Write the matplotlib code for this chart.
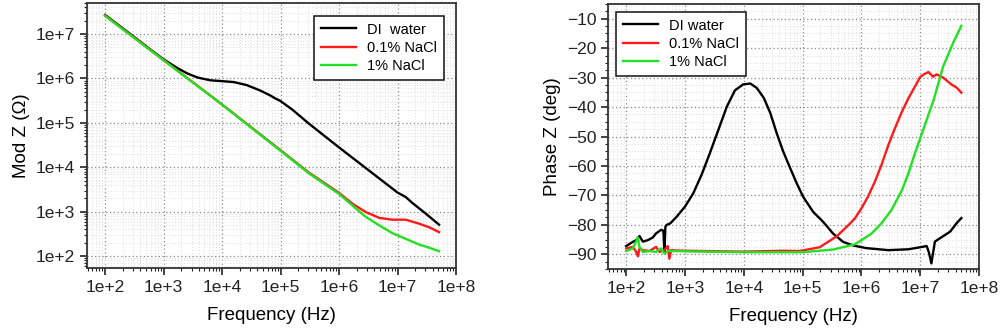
import math
import matplotlib
matplotlib.use("Agg")
import matplotlib.pyplot as plt
from matplotlib.ticker import LogLocator, FixedLocator, MultipleLocator, FuncFormatter, NullFormatter

plt.rcParams['font.family'] = ['Liberation Sans', 'DejaVu Sans']

# ---------------- data ----------------
series_names = ["DI  water", "0.1% NaCl", "1% NaCl"]
series_names_phase = ["DI water", "0.1% NaCl", "1% NaCl"]
colors = ["#000000", "#ff1a1a", "#22e022"]

# Mod Z (ohm) vs frequency (Hz)
f_di_mod = [100, 257, 610, 1000, 1738, 2570, 3802, 6310, 10000, 15850, 26300,
            44670, 66070, 81300, 100000, 158000, 309000, 1000000, 10000000,
            13800000, 18200000, 30900000, 51300000]
z_di_mod = [2.69e7, 1.05e7, 4.37e6, 2.69e6, 1.70e6, 1.29e6, 1.05e6, 9.1e5, 8.7e5,
            8.3e5, 7.1e5, 5.37e5, 4.17e5, 3.55e5, 3.1e5, 2.0e5, 9.5e4, 2.8e4,
            2.7e3, 2.14e3, 1.55e3, 8.9e2, 5.1e2]

f_salt_mod = [100, 1000, 10000, 100000, 309000, 1000000, 1698000, 2884000,
              4898000, 8128000, 13800000, 23440000, 34670000, 51290000]
z_red_mod = [2.6e7, 2.6e6, 2.6e5, 2.42e4, 7.5e3, 2.65e3, 1.51e3, 977, 724, 661,
             661, 537, 447, 347]
z_grn_mod = [2.57e7, 2.57e6, 2.57e5, 2.35e4, 7.2e3, 2.51e3, 1380, 759, 490, 331,
             245, 182, 155, 129]

# Phase Z (deg) vs frequency (Hz)
f_di_ph = [100, 122, 148, 168, 192, 233, 283, 322, 392, 429, 446, 464, 490, 562,
           724, 1000, 1380, 1905, 2630, 3670, 5130, 7080, 9770, 12880, 16600,
           21880, 28180, 36310, 46770, 61660, 79430, 102300, 151400, 223900,
           331100, 489800, 724400, 1202000, 2884000, 6310000, 10720000,
           12880000, 14130000, 15490000, 17780000, 21880000, 32360000,
           41690000, 50120000]
p_di_ph = [-87.2, -86.1, -85.2, -83.8, -85.7, -85.2, -84.3, -82.9, -81.7, -82.0,
           -89.2, -80.6, -80.0, -79.5, -77.2, -73.8, -69.3, -63.1, -55.8, -47.9,
           -39.9, -34.3, -32.3, -32.0, -33.5, -36.9, -42.0, -48.9, -55.1, -60.8,
           -65.9, -70.5, -75.6, -79.0, -83.0, -85.8, -87.0, -87.9, -88.6, -88.3,
           -87.5, -87.2, -89.5, -93.1, -85.7, -84.5, -82.3, -79.4, -77.7]

f_red_ph = [100, 130, 148, 158, 168, 192, 248, 322, 367, 446, 508, 542, 579, 703,
            1000, 10000, 47000, 89130, 195000, 380200, 631000, 776200, 1000000,
            1288000, 1698000, 2188000, 2884000, 3715000, 4898000, 6310000,
            10000000, 11480000, 13800000, 16600000, 19050000, 24550000,
            33880000, 41690000, 50120000]
p_red_ph = [-88.0, -87.5, -89.2, -90.7, -88.0, -88.6, -88.9, -87.5, -89.2, -88.6,
            -87.2, -91.5, -88.6, -88.7, -88.8, -89.1, -88.8, -88.9, -87.6, -83.9,
            -79.7, -77.8, -74.4, -70.5, -65.3, -59.7, -52.8, -47.2, -41.5, -37.0,
            -29.8, -28.9, -28.1, -29.7, -28.9, -30.0, -32.3, -33.4, -35.1]

f_grn_ph = [100, 130, 158, 168, 192, 248, 322, 392, 446, 508, 703, 1000, 10000,
            100000, 331100, 776200, 1000000, 1479000, 2188000, 3236000, 4898000,
            6310000, 8128000, 10720000, 13800000, 16980000, 24550000, 36310000,
            50120000]
p_grn_ph = [-88.9, -88.0, -84.3, -87.5, -89.2, -88.9, -89.2, -88.0, -89.8, -88.9,
            -88.9, -89.0, -89.3, -89.3, -88.4, -86.6, -85.2, -83.0, -79.5, -75.0,
            -68.2, -62.5, -55.7, -48.9, -42.6, -37.5, -26.2, -18.2, -12.4]

x_ticks = [1e2, 1e3, 1e4, 1e5, 1e6, 1e7, 1e8]
mod_ticks = [1e2, 1e3, 1e4, 1e5, 1e6, 1e7]
phase_ticks = [-90, -80, -70, -60, -50, -40, -30, -20, -10]

# ---------------- figure ----------------
fig = plt.figure(figsize=(10, 3.35), dpi=100)
ax1 = fig.add_axes([0.087, 0.200, 0.369, 0.791])
ax2 = fig.add_axes([0.608, 0.197, 0.371, 0.791])

def efmt(v, pos):
    if v <= 0:
        return ""
    return "1e+%d" % int(round(math.log10(v)))

def style(ax):
    ax.set_xscale('log')
    ax.set_xlim(49, 1e8)
    ax.xaxis.set_major_locator(FixedLocator(x_ticks))
    ax.xaxis.set_minor_locator(LogLocator(base=10, subs=range(2, 10), numticks=20))
    ax.xaxis.set_major_formatter(FuncFormatter(efmt))
    ax.xaxis.set_minor_formatter(NullFormatter())
    ax.grid(which='major', linestyle=(0, (1, 2)), color='#8a8a8a', linewidth=0.9)
    ax.grid(which='minor', linestyle=(0, (1, 2)), color='#dddddd', linewidth=0.7)
    ax.set_axisbelow(True)
    ax.tick_params(which='major', direction='out', length=5, width=1.2,
                   labelsize=12.5, top=False, right=False, colors='#222222')
    ax.tick_params(which='minor', direction='out', length=2.5, width=0.8,
                   top=False, right=False, colors='#222222')
    for s in ax.spines.values():
        s.set_linewidth(1.3)
        s.set_color('#333333')
    ax.set_xlabel("Frequency (Hz)", fontsize=13.5, labelpad=9)

legend_kw = dict(fontsize=10.5, frameon=True, fancybox=False, edgecolor='#111111',
                 handlelength=2.4, borderpad=0.45, labelspacing=0.3,
                 handletextpad=0.8, borderaxespad=0.0, framealpha=1.0)

# Left: Mod Z
ax1.plot(f_di_mod, z_di_mod, color=colors[0], lw=1.7, label=series_names[0])
ax1.plot(f_salt_mod, z_red_mod, color=colors[1], lw=1.7, label=series_names[1])
ax1.plot(f_salt_mod, z_grn_mod, color=colors[2], lw=1.7, label=series_names[2])
style(ax1)
ax1.set_yscale('log')
ax1.set_ylim(54, 5e7)
ax1.yaxis.set_major_locator(FixedLocator(mod_ticks))
ax1.yaxis.set_minor_locator(LogLocator(base=10, subs=range(2, 10), numticks=20))
ax1.yaxis.set_major_formatter(FuncFormatter(efmt))
ax1.yaxis.set_minor_formatter(NullFormatter())
ax1.set_ylabel("Mod Z (\u03a9)", fontsize=13.5, labelpad=4)
leg1 = ax1.legend(loc='upper right', bbox_to_anchor=(0.967, 0.951), **legend_kw)
leg1.get_frame().set_linewidth(1.1)

# Right: Phase Z
ax2.plot(f_di_ph, p_di_ph, color=colors[0], lw=1.7, label=series_names_phase[0])
ax2.plot(f_red_ph, p_red_ph, color=colors[1], lw=1.7, label=series_names_phase[1])
ax2.plot(f_grn_ph, p_grn_ph, color=colors[2], lw=1.7, label=series_names_phase[2])
style(ax2)
ax2.set_ylim(-95, -5)
ax2.yaxis.set_major_locator(FixedLocator(phase_ticks))
ax2.yaxis.set_minor_locator(MultipleLocator(2.5))
ax2.set_ylabel("Phase Z (deg)", fontsize=13.5, labelpad=4)
leg2 = ax2.legend(loc='upper left', bbox_to_anchor=(0.022, 0.97), **legend_kw)
leg2.get_frame().set_linewidth(1.1)

fig.savefig("out.png", dpi=100)
